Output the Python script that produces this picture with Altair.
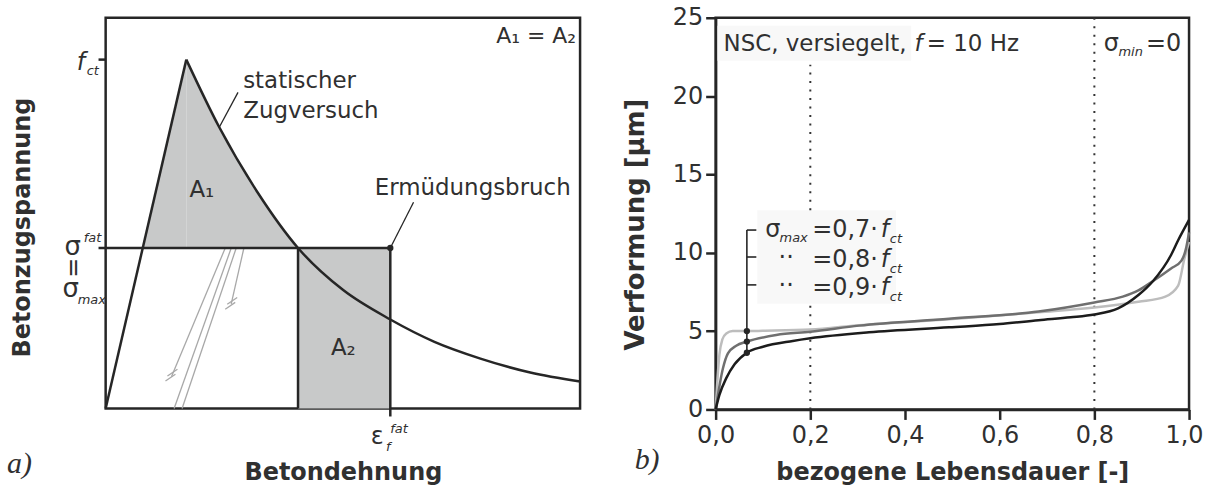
import altair as alt
import pandas as pd

FONT = "DejaVu Sans"
SERIF = "Liberation Serif"
INK = "#262626"
TXT = "#303030"
SHADE = "#c8c9c9"
THIN = "#a8a8a8"
W_LINE = 2.5

# ------------------------------------------------------------------
# a) schematic: static tension test vs. fatigue failure
#    strain in arbitrary units, stress normalised to f_ct = 1
# ------------------------------------------------------------------
eps_domain = [0, 10]
sig_domain = [0, 1.12]

f_ct = 1.0
sigma_fat = 0.46
eps_fail = 6.0          # epsilon_f^fat
eps_cross = 4.055       # softening branch meets sigma_fat
eps_rise_cross = 0.782  # ascending branch meets sigma_fat

rise_eps = [0.0, 1.70]
rise_sig = [0.0, 1.0]
soft_eps = [1.70, 2.395, 3.214, 4.055, 5.0, 6.0, 6.93, 7.9, 8.95, 10.0]
soft_sig = [1.0, 0.806, 0.617, 0.46, 0.34, 0.255, 0.191, 0.143, 0.103, 0.077]

# thin grey unloading paths (start -> end)
gray_e = [2.521, 2.647, 2.752, 2.914]
gray_s = [0.46, 0.46, 0.46, 0.46]
gray_e2 = [1.387, 1.443, 1.611, 2.647]
gray_s2 = [0.091, 0.0, 0.0, 0.30]
# break marks on the shortened paths
brk_e = [1.303, 1.261, 2.563, 2.521]
brk_s = [0.0931, 0.0789, 0.2989, 0.2846]
brk_e2 = [1.513, 1.471, 2.773, 2.731]
brk_s2 = [0.1126, 0.0983, 0.3183, 0.304]

# leader lines for annotations
lead_e = [2.395, 6.0]
lead_s = [0.806, 0.46]
lead_e2 = [2.79, 6.49]
lead_s2 = [0.906, 0.591]

XA = alt.Scale(domain=eps_domain, nice=False, zero=False)
YA = alt.Scale(domain=sig_domain, nice=False, zero=False)
AXA_X = alt.Axis(title="Betondehnung", labels=False, ticks=False, domain=False,
                 grid=False, titleFont=FONT, titleFontSize=24, titleFontWeight="bold",
                 titleColor=TXT, titleY=71, titleBaseline="alphabetic")
AXA_Y = alt.Axis(title="Betonzugspannung", labels=False, ticks=False, domain=False,
                 grid=False, titleFont=FONT, titleFontSize=24, titleFontWeight="bold",
                 titleColor=TXT, titleX=-76, titleY=210, titleBaseline="alphabetic")


def xa(f="e"):
    return alt.X(f"{f}:Q", scale=XA, axis=AXA_X)


def ya(f="s"):
    return alt.Y(f"{f}:Q", scale=YA, axis=AXA_Y)


rise_df = pd.DataFrame({"e": rise_eps, "s": rise_sig})
soft_df = pd.DataFrame({"e": soft_eps, "s": soft_sig})

# shaded area A1 (ascending part and softening part)
a1_rise = pd.DataFrame({"e": [eps_rise_cross, rise_eps[1]],
                        "s": [sigma_fat, rise_sig[1]], "b": [sigma_fat, sigma_fat]})
a1_soft = soft_df[soft_df.e <= eps_cross].assign(b=sigma_fat)

area1 = alt.Chart(a1_rise).mark_area(color=SHADE).encode(xa(), ya(), y2="b:Q")
area2 = alt.Chart(a1_soft).mark_area(color=SHADE, interpolate="monotone").encode(
    xa(), ya(), y2="b:Q")
rect_a2 = alt.Chart(pd.DataFrame({"e": [eps_cross], "e2": [eps_fail], "s": [0.0],
                                  "s2": [sigma_fat]})).mark_rect(color=SHADE).encode(
    xa(), x2="e2:Q", y=ya(), y2="s2:Q")

frame_rules = pd.DataFrame({
    "e": [-0.15, eps_cross, eps_fail, -0.15],
    "e2": [eps_fail, eps_cross, eps_fail, 0.0],
    "s": [sigma_fat, 0.0, -0.023, f_ct],
    "s2": [sigma_fat, sigma_fat, sigma_fat, f_ct],
})
rules_a = alt.Chart(frame_rules).mark_rule(color=INK, strokeWidth=W_LINE).encode(
    xa(), x2="e2:Q", y=ya(), y2="s2:Q")

rise_line = alt.Chart(rise_df).mark_line(color=INK, strokeWidth=W_LINE).encode(xa(), ya())
soft_line = alt.Chart(soft_df).mark_line(color=INK, strokeWidth=W_LINE,
                                         interpolate="monotone").encode(xa(), ya())

gray_df = pd.DataFrame({"e": gray_e + brk_e, "e2": gray_e2 + brk_e2,
                        "s": gray_s + brk_s, "s2": gray_s2 + brk_s2})
gray_lines = alt.Chart(gray_df).mark_rule(color=THIN, strokeWidth=1.3).encode(
    xa(), x2="e2:Q", y=ya(), y2="s2:Q")

lead_df = pd.DataFrame({"e": lead_e, "e2": lead_e2, "s": lead_s, "s2": lead_s2})
leaders = alt.Chart(lead_df).mark_rule(color=INK, strokeWidth=1.3).encode(
    xa(), x2="e2:Q", y=ya(), y2="s2:Q")

fail_pt = alt.Chart(pd.DataFrame({"e": [eps_fail], "s": [sigma_fat]})).mark_circle(
    color=INK, size=40, opacity=1).encode(xa(), ya())


def text_layer(rows, x, y, size, style="normal", align="left", angle=0,
               font=FONT, baseline="alphabetic"):
    df = pd.DataFrame(rows, columns=["t", "px", "py"])
    return alt.Chart(df).mark_text(
        font=font, fontSize=size, fontStyle=style, align=align, angle=angle,
        baseline=baseline, color=TXT).encode(
        x=x("px"), y=y("py"), text="t:N")


texts_a = [
    text_layer([("statischer", 2.899, 0.920), ("Zugversuch", 2.899, 0.834),
                ("Ermüdungsbruch", 5.672, 0.611)], xa, ya, 23),
    text_layer([("A₁ = A₂", 9.916, 1.049)], xa, ya, 22, align="right"),
    text_layer([("A₁", 1.765, 0.606), ("A₂", 4.748, 0.154)], xa, ya, 23),
    text_layer([("f", -0.609, 0.971)], xa, ya, 24, style="italic"),
    text_layer([("ct", -0.399, 0.957), ("fat", -0.462, 0.477), ("max", -0.588, 0.30),
                ("f", 5.91, -0.123), ("fat", 6.0, -0.071)], xa, ya, 13, style="italic"),
    text_layer([("σ", -0.693, 0.44), ("σ", -0.735, 0.32)], xa, ya, 26, align="center"),
    text_layer([("=", -0.693, 0.403)], xa, ya, 24, align="center", angle=90,
               baseline="middle"),
    text_layer([("ε", 5.59, -0.103)], xa, ya, 24),
    text_layer([("a)", -2.08, -0.186)], xa, ya, 30, style="italic", font=SERIF),
]

panel_a = alt.layer(area1, area2, rect_a2, gray_lines, rules_a, rise_line, soft_line,
                    leaders, fail_pt, *texts_a).properties(width=476, height=392)

# ------------------------------------------------------------------
# b) deformation over relative fatigue life, NSC sealed, f = 10 Hz
# ------------------------------------------------------------------
life_07 = [0, 0.008, 0.0225, 0.04, 0.066, 0.1, 0.163, 0.2, 0.324, 0.493, 0.6,
           0.682, 0.75, 0.8, 0.85, 0.893, 0.924, 0.962, 0.977, 1.0]
defo_07 = [0, 0.93, 2.0, 2.88, 3.62, 4.0, 4.37, 4.54, 4.92, 5.24, 5.45,
           5.7, 5.88, 6.06, 6.45, 7.3, 8.2, 9.86, 10.8, 12.1]
life_08 = [0, 0.0155, 0.026, 0.0435, 0.066, 0.128, 0.2, 0.303, 0.493, 0.682,
           0.8, 0.86, 0.893, 0.924, 0.962, 0.984, 0.993, 1.0]
defo_08 = [0, 2.63, 3.58, 4.07, 4.33, 4.75, 4.96, 5.35, 5.79, 6.25,
           6.83, 7.2, 7.6, 8.2, 9.0, 9.5, 10.2, 11.3]
life_09 = [0, 0.004, 0.008, 0.014, 0.0225, 0.036, 0.066, 0.1, 0.2, 0.303, 0.493,
           0.682, 0.8, 0.893, 0.95, 0.977, 0.99, 1.0]
defo_09 = [0, 2.0, 3.5, 4.45, 4.85, 5.0, 5.0, 5.02, 5.1, 5.38, 5.76,
           6.2, 6.5, 6.87, 7.2, 7.9, 9.6, 10.7]
colors = {"0,7": "#1c1c1c", "0,8": "#6f6f6f", "0,9": "#bdbdbd"}

x_ticks = [0, 0.2, 0.4, 0.6, 0.8, 1.0]
y_ticks = [0, 5, 10, 15, 20, 25]

XB = alt.Scale(domain=[0, 1], nice=False, zero=False)
YB = alt.Scale(domain=[0, 25], nice=False, zero=False)
AX_STYLE = dict(grid=False, domainColor=INK, domainWidth=W_LINE, tickColor=INK,
                tickWidth=W_LINE, tickSize=10, labelFont=FONT, labelFontSize=24,
                labelColor=TXT, labelFlush=False, labelOverlap=False,
                titleFont=FONT, titleFontWeight="bold",
                titleColor=TXT, titleBaseline="alphabetic")
AXB_X = alt.Axis(title="bezogene Lebensdauer [-]", values=x_ticks,
                 labelExpr="replace(format(datum.value, '.1f'), '.', ',')",
                 labelOffset={"condition": {"test": "datum.value == 1", "value": -5},
                              "value": 0},
                 labelPadding=4, titleY=70, titleFontSize=24, **AX_STYLE)
AXB_Y = alt.Axis(title="Verformung [µm]", values=y_ticks, labelPadding=3,
                 titleX=-72, titleY=207, titleFontSize=26, **AX_STYLE)


def xb(f="x"):
    return alt.X(f"{f}:Q", scale=XB, axis=AXB_X)


def yb(f="y"):
    return alt.Y(f"{f}:Q", scale=YB, axis=AXB_Y)


boxes = alt.Chart(pd.DataFrame({"x": [0.004, 0.088], "x2": [0.413, 0.381],
                                "y": [22.26, 6.74], "y2": [24.49, 12.72]})).mark_rect(
    color="#f8f8f8").encode(xb(), x2="x2:Q", y=yb(), y2="y2:Q")

dots_v = pd.DataFrame({"x": [0.2, 0.2, 0.8], "y": [0, 12.72, 0], "y2": [6.74, 22.0, 25]})
dotted = alt.Chart(dots_v).mark_rule(color="#333333", strokeWidth=2,
                                     strokeDash=[2, 6.5]).encode(xb(), y=yb(), y2="y2:Q")


def curve(life, defo, col):
    return alt.Chart(pd.DataFrame({"x": life, "y": defo})).mark_line(
        color=col, strokeWidth=W_LINE, interpolate="monotone").encode(xb(), yb())


curves = [curve(life_09, defo_09, colors["0,9"]),
          curve(life_08, defo_08, colors["0,8"]),
          curve(life_07, defo_07, colors["0,7"])]

# legend bracket linking the three curves at the same relative life
mark_life = 0.066
mark_defo = [defo_07[life_07.index(mark_life)], defo_08[life_08.index(mark_life)],
             defo_09[life_09.index(mark_life)]]
bracket = pd.DataFrame({
    "x": [mark_life, mark_life, mark_life, mark_life],
    "x2": [mark_life, 0.086, 0.086, 0.086],
    "y": [mark_defo[0], 11.45, 9.73, 7.95],
    "y2": [11.45, 11.45, 9.73, 7.95],
})
bracket_rules = alt.Chart(bracket).mark_rule(color=INK, strokeWidth=1.6).encode(
    xb(), x2="x2:Q", y=yb(), y2="y2:Q")
bracket_pts = alt.Chart(pd.DataFrame({"x": [mark_life] * 3, "y": mark_defo})).mark_circle(
    color=INK, size=40, opacity=1).encode(xb(), yb())

texts_b = [
    text_layer([("NSC, versiegelt,", 0.0168, 22.9), ("= 10 Hz", 0.446, 22.9)],
               xb, yb, 23),
    text_layer([("σ", 0.82, 22.9), ("=0", 0.909, 22.9),
                ("σ", 0.105, 11.0), ("=0,7·", 0.204, 11.0),
                ("=0,8·", 0.204, 9.10), ("=0,9·", 0.204, 7.32)], xb, yb, 24),
    text_layer([("f", 0.42, 22.9)], xb, yb, 23, style="italic"),
    text_layer([("f", 0.349, 11.0), ("f", 0.349, 9.10),
                ("f", 0.349, 7.32)], xb, yb, 24, style="italic"),
    text_layer([("min", 0.851, 22.58), ("max", 0.135, 10.69), ("ct", 0.368, 10.62),
                ("ct", 0.368, 8.72), ("ct", 0.368, 6.93)], xb, yb, 13, style="italic"),
    text_layer([("··", 0.149, 9.22), ("··", 0.149, 7.44)], xb, yb, 24, align="center"),
    text_layer([("b)", -0.171, -3.82)], xb, yb, 30, style="italic", font=SERIF),
]

panel_b = alt.layer(boxes, dotted, *curves, bracket_rules, bracket_pts,
                    *texts_b).properties(width=475, height=393)

chart = alt.hconcat(panel_a, panel_b, spacing=136, bounds="flush").configure(
    padding={"left": 5, "top": 3, "right": 0, "bottom": 2},
    background="white",
).configure_view(stroke=INK, strokeWidth=W_LINE)

chart.save("out.html", embed_options={"renderer": "svg", "actions": False})
